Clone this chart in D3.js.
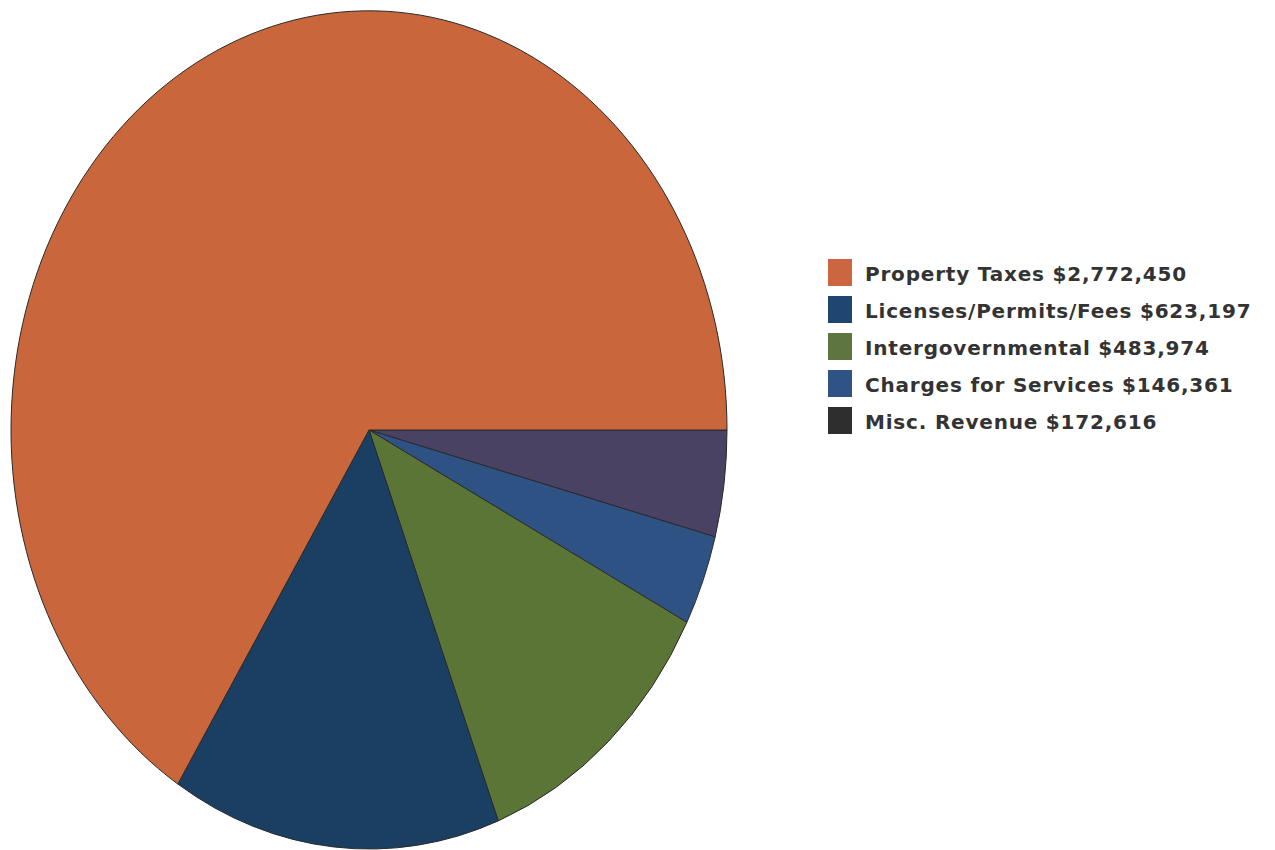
<!DOCTYPE html>
<html>
<head>
    <meta charset="utf-8">
    <title>Revenue Pie</title>
    <script src="https://cdn.jsdelivr.net/npm/d3@7"></script>
    <style>
        body { margin: 0; background: #fff; }
        .legend text { font-family: "DejaVu Sans", Verdana, sans-serif; font-weight: bold; fill: #333; letter-spacing: 0.8px; }
    </style>
</head>
<body>
<svg id="chart" width="1275" height="850"></svg>
<script>
    // legend order
    var categories = ["Property Taxes", "Licenses/Permits/Fees", "Intergovernmental", "Charges for Services", "Misc. Revenue"];
    var values = [2772450, 623197, 483974, 146361, 172616];
    var sliceColors = ["#c9663b", "#1f4870", "#5b7537", "#2e5284", "#4a4263"];
    var swatchColors = ["#cc6640", "#1e4670", "#5e7540", "#2f5385", "#2e2e2e"];

    var fmt = d3.format("$,");
    var data = categories.map(function(c, i) {
        return { name: c, value: values[i], i: i };
    });

    var svg = d3.select("#chart");

    // subtle stripe texture on the licenses slice (scan look)
    var pat = svg.append("defs").append("pattern")
        .attr("id", "stripes")
        .attr("patternUnits", "userSpaceOnUse")
        .attr("width", 6).attr("height", 6)
        .attr("patternTransform", "rotate(-35)");
    pat.append("rect").attr("width", 6).attr("height", 6).attr("fill", sliceColors[1]);
    pat.append("rect").attr("width", 6).attr("height", 2).attr("fill", "#1a3f63");

    var cx = 369, cy = 430, rx = 358, ry = 419;

    // pie runs clockwise from 3 o'clock, misc first
    var pie = d3.pie()
        .value(function(d) { return d.value; })
        .sort(null)
        .startAngle(Math.PI / 2)
        .endAngle(Math.PI / 2 + 2 * Math.PI);

    var arc = d3.arc().innerRadius(0).outerRadius(1);

    var g = svg.append("g")
        .attr("transform", "translate(" + cx + "," + cy + ") scale(" + rx + "," + ry + ")");

    g.selectAll("path")
        .data(pie(data.slice().reverse()))
        .enter().append("path")
        .attr("d", arc)
        .attr("fill", function(d) { return d.data.i === 1 ? "url(#stripes)" : sliceColors[d.data.i]; })
        .attr("stroke", "#2a2a2a")
        .attr("stroke-width", 1)
        .attr("vector-effect", "non-scaling-stroke");

    // legend
    var legend = svg.append("g").attr("class", "legend")
        .attr("transform", "translate(828,259)");

    var row = legend.selectAll("g")
        .data(data)
        .enter().append("g")
        .attr("transform", function(d, i) { return "translate(0," + (i * 37) + ")"; });

    row.append("rect")
        .attr("width", 24).attr("height", 27)
        .attr("fill", function(d) { return swatchColors[d.i]; });

    row.append("text")
        .attr("x", 37).attr("y", 22)
        .attr("font-size", 20)
        .text(function(d) { return d.name + " " + fmt(d.value); });
</script>
</body>
</html>
